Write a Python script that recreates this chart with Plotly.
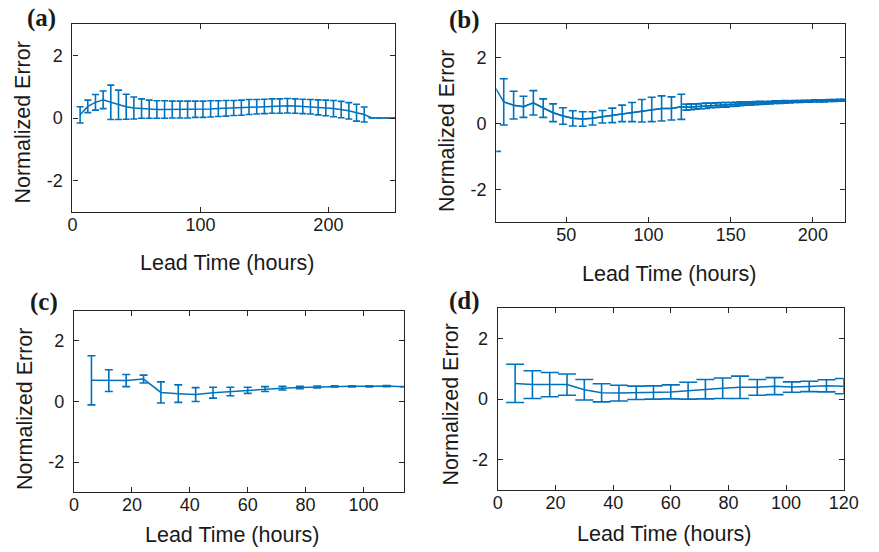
import plotly.graph_objects as go

# ---------------- data ----------------
a_x = [6, 12, 18, 24, 30, 36, 42, 48, 54, 60, 66, 72, 78, 84, 90, 96, 102, 108, 114, 120,
       126, 132, 138, 144, 150, 156, 162, 168, 174, 180, 186, 192, 198, 204, 210, 216, 222, 228,
       234, 240, 246, 252]
a_mean = [0.10, 0.37, 0.50, 0.58, 0.50, 0.42, 0.36, 0.32, 0.30, 0.28, 0.27, 0.27, 0.27, 0.27,
          0.27, 0.28, 0.28, 0.29, 0.30, 0.31, 0.32, 0.33, 0.35, 0.36, 0.37, 0.38, 0.38, 0.39,
          0.38, 0.37, 0.36, 0.34, 0.32, 0.30, 0.27, 0.23, 0.17, 0.11,
          0.0, 0.0, 0.0, 0.0]
a_err = [0.26, 0.20, 0.25, 0.28, 0.55, 0.47, 0.40, 0.35, 0.31, 0.29, 0.28, 0.28, 0.27, 0.27,
         0.27, 0.26, 0.26, 0.26, 0.25, 0.25, 0.24, 0.24, 0.24, 0.23, 0.23, 0.23, 0.23, 0.23,
         0.23, 0.23, 0.23, 0.24, 0.25, 0.26, 0.26, 0.26, 0.27, 0.24,
         0.0, 0.0, 0.0, 0.0]

b_x = [6, 12, 18, 24, 30, 36, 42, 48, 54, 60, 66, 72, 78, 84, 90, 96, 102, 108, 114, 120,
       123, 126, 129, 132, 135, 138, 141, 144, 147, 150, 153, 156, 159, 162, 165, 168, 171,
       174, 177, 180, 183, 186, 189, 192, 195, 198, 201, 204, 207, 210, 213, 216, 219]
b_mean = [1.15, 0.65, 0.55, 0.50, 0.62, 0.46, 0.32, 0.22, 0.15, 0.13, 0.15, 0.20, 0.24, 0.30,
          0.34, 0.38, 0.42, 0.45, 0.45, 0.50,
          0.49, 0.50, 0.51, 0.52, 0.53, 0.54, 0.55, 0.56, 0.56, 0.57, 0.58, 0.59, 0.60, 0.60,
          0.61, 0.62, 0.62, 0.63, 0.64, 0.64, 0.65, 0.65, 0.66, 0.66, 0.67, 0.67, 0.68, 0.68,
          0.68, 0.69, 0.69, 0.70, 0.70]
b_err = [2.00, 0.70, 0.42, 0.32, 0.37, 0.28, 0.27, 0.25, 0.23, 0.22, 0.20, 0.19, 0.22, 0.25,
         0.29, 0.34, 0.37, 0.38, 0.35, 0.38,
         0.09, 0.09, 0.08, 0.08, 0.08, 0.07, 0.07, 0.07, 0.07, 0.06, 0.06, 0.06, 0.05, 0.05,
         0.05, 0.05, 0.04, 0.04, 0.04, 0.04, 0.04, 0.03, 0.03, 0.03, 0.03, 0.03, 0.03, 0.03,
         0.03, 0.03, 0.03, 0.03, 0.03]

c_x = [6, 12, 18, 24, 30, 36, 42, 48, 54, 60, 66, 72, 78, 84, 90, 96, 102, 108, 114]
c_mean = [0.70, 0.69, 0.69, 0.74, 0.30, 0.26, 0.23, 0.29, 0.33, 0.37, 0.41, 0.44, 0.46,
          0.48, 0.50, 0.50, 0.50, 0.51, 0.49]
c_err = [0.81, 0.36, 0.20, 0.13, 0.35, 0.29, 0.23, 0.18, 0.14, 0.10, 0.08, 0.06, 0.04,
         0.03, 0.02, 0.02, 0.02, 0.02, 0.0]

d_x = [6, 12, 18, 24, 30, 36, 42, 48, 54, 60, 66, 72, 78, 84, 90, 96, 102, 108, 114, 120]
d_mean = [0.52, 0.48, 0.48, 0.48, 0.31, 0.21, 0.20, 0.21, 0.22, 0.24, 0.28, 0.33, 0.36,
          0.39, 0.39, 0.43, 0.40, 0.42, 0.44, 0.43]
d_err = [0.63, 0.46, 0.40, 0.35, 0.34, 0.30, 0.26, 0.22, 0.22, 0.23, 0.28, 0.32, 0.34,
         0.37, 0.26, 0.28, 0.17, 0.17, 0.20, 0.25]

panel_labels = ["(a)", "(b)", "(c)", "(d)"]
x_title = "Lead Time (hours)"
y_title = "Normalized Error"
y_ticks = [-2, 0, 2]

# ---------------- figure ----------------
W, H = 879, 552
BLUE = "#0072BD"
AX = "#262626"

fig = go.Figure()

def add_series(x, y, e, xa, ya, capw):
    fig.add_trace(go.Scatter(
        x=x, y=y, mode="lines", xaxis=xa, yaxis=ya,
        line=dict(color=BLUE, width=1.5),
        error_y=dict(type="data", array=e, visible=True, color=BLUE,
                     thickness=1.6, width=capw),
        showlegend=False, hoverinfo="skip"))

add_series(a_x, a_mean, a_err, "x", "y", 3.5)
# first point of (b): its bar is outside the axis, only the cap edge is visible
fig.add_trace(go.Scatter(
    x=b_x[:1], y=b_mean[:1], mode="markers", xaxis="x2", yaxis="y2",
    marker=dict(size=1, color="rgba(0,0,0,0)"),
    error_y=dict(type="data", array=b_err[:1], visible=True, color=BLUE,
                 thickness=1.6, width=7),
    showlegend=False, hoverinfo="skip"))
fig.add_trace(go.Scatter(
    x=b_x, y=b_mean, mode="lines", xaxis="x2", yaxis="y2",
    line=dict(color=BLUE, width=1.5), showlegend=False, hoverinfo="skip"))
fig.add_trace(go.Scatter(
    x=b_x[1:], y=b_mean[1:], mode="lines", xaxis="x2", yaxis="y2",
    line=dict(color=BLUE, width=1.5),
    error_y=dict(type="data", array=b_err[1:], visible=True, color=BLUE,
                 thickness=1.6, width=4),
    showlegend=False, hoverinfo="skip"))
add_series(c_x, c_mean, c_err, "x3", "y3", 4)
add_series(d_x, d_mean, d_err, "x4", "y4", 9)

def px_x(p):
    return p / W

def px_y(p):
    return 1 - p / H

# plot areas in pixels: (left, right, top, bottom)
boxes = [
    (69.0, 399.0, 24.0, 212.0),
    (502.7, 860.0, 24.3, 222.3),
    (70.7, 408.3, 310.7, 492.3),
    (504.3, 858.3, 308.3, 490.0),
]
xranges = [[0, 252], [7.45, 219.8], [0, 114], [0, 120]]
xticks = [[0, 100, 200], [50, 100, 150, 200], [0, 20, 40, 60, 80, 100],
          [0, 20, 40, 60, 80, 100, 120]]

axis_common = dict(
    showline=True, linecolor=AX, linewidth=1.3, mirror="ticks",
    ticks="inside", ticklen=5, tickwidth=1.3, tickcolor=AX,
    showgrid=False, zeroline=False,
    tickfont=dict(family="Liberation Sans, Arial, sans-serif", size=18, color="#1a1a1a"),
)

layout = {}
for i, (l, r, t, b) in enumerate(boxes):
    sfx = "" if i == 0 else str(i + 1)
    layout["xaxis" + sfx] = dict(
        axis_common, domain=[px_x(l), px_x(r)], range=xranges[i],
        tickmode="array", tickvals=xticks[i], anchor="y" + sfx,
        ticklabelstandoff=-4)
    layout["yaxis" + sfx] = dict(
        axis_common, domain=[px_y(b), px_y(t)], range=[-3, 3],
        tickmode="array", tickvals=y_ticks,
        ticktext=[str(v) if v >= 0 else "-" + str(-v) for v in y_ticks],
        anchor="x" + sfx, ticklabelstandoff=5)

fig.update_layout(
    width=W, height=H, margin=dict(l=0, r=0, t=0, b=0),
    paper_bgcolor="white", plot_bgcolor="white", **layout)

TF = dict(family="Liberation Sans, Arial, sans-serif", size=21.5, color="#1a1a1a")
LF = dict(family="Liberation Serif, Times New Roman, serif", size=25, color="#1a1a1a")

xt_pos = [(226.7, 262.5), (679.0, 273.5), (232.5, 535.0), (674.0, 534.0)]
yt_pos = [(17.5, 122.5), (452.5, 130.8), (20.5, 409.0), (456.0, 405.0)]
lb_pos = [(37.5, 18.0), (470.0, 20.0), (40.0, 302.0), (470.0, 301.0)]

anns = []
for i in range(4):
    anns.append(dict(text=x_title, x=px_x(xt_pos[i][0]), y=px_y(xt_pos[i][1]),
                     xref="paper", yref="paper", showarrow=False,
                     xanchor="center", yanchor="middle", font=TF))
    anns.append(dict(text=y_title, x=px_x(yt_pos[i][0]), y=px_y(yt_pos[i][1]),
                     xref="paper", yref="paper", showarrow=False, textangle=-90,
                     xanchor="center", yanchor="middle", font=TF))
    anns.append(dict(text="<b>" + panel_labels[i] + "</b>", x=px_x(lb_pos[i][0]),
                     y=px_y(lb_pos[i][1]), xref="paper", yref="paper", showarrow=False,
                     xanchor="center", yanchor="middle", font=LF))
fig.update_layout(annotations=anns)

fig.write_html("out.html")
